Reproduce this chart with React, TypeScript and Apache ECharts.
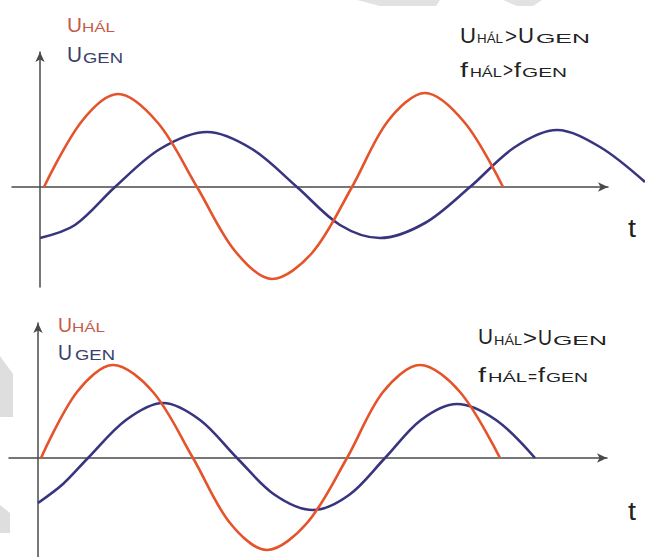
import React, { useEffect, useRef } from "react";
import * as echarts from "echarts";

// Upper diagram: mains voltage (HÁL) at higher frequency than generator voltage (GEN)
const upperHal: [number, number][] = [
  [4, 0], [42, 66], [78, 93], [118, 64], [157, 0], [195, -64], [232, -92],
  [272, -66], [312, 0], [348, 66], [385, 94], [425, 64], [463, 0],
];
const upperGen: [number, number][] = [
  [0, -51], [35, -38], [75, 0], [120, 38], [167, 55], [212, 38], [257, 0],
  [300, -38], [340, -51], [385, -36], [430, 0], [475, 40], [517, 57], [560, 40], [605, 5],
];

// Lower diagram: same frequency, HÁL amplitude larger
const lowerHal: [number, number][] = [
  [3, 0], [39, 66], [75, 93], [115, 66], [155, 0], [192, -65], [229, -92],
  [269, -65], [309, 0], [345, 66], [382, 93], [422, 66], [462, 0],
];
const lowerGen: [number, number][] = [
  [0, -45], [25, -26], [50, 0], [88, 38], [125, 55], [162, 38], [199, 0],
  [237, -37], [275, -52], [311, -37], [347, 0], [383, 38], [419, 54], [458, 38], [497, 0],
];

const HAL_COLOR = "#e5532b";
const GEN_COLOR = "#38357f";
const AXIS_COLOR = "#4a4a4a";
const FONT = '"Liberation Sans", Arial, sans-serif';

type Piece = [string, number, number, number]; // text, font size, left, right

let measureCtx: CanvasRenderingContext2D | null = null;
function textWidth(text: string, size: number): number {
  if (!measureCtx) measureCtx = document.createElement("canvas").getContext("2d");
  if (!measureCtx) return text.length * size * 0.6;
  measureCtx.font = `${size}px ${FONT}`;
  return measureCtx.measureText(text).width;
}

function label(pieces: Piece[], baseline: number, fill: string) {
  return pieces.map(([text, size, x0, x1]) => {
    const natural = textWidth(text, size);
    const sx = natural > 0 ? (x1 - x0) / natural : 1;
    return {
      type: "text",
      x: x0,
      y: baseline - 0.35 * size,
      scaleX: sx,
      silent: true,
      style: { text, fontSize: size, fontFamily: FONT, fill, align: "left", verticalAlign: "middle" },
    };
  });
}

function valueAxis(gridIndex: number, min: number, max: number, visible: boolean) {
  return {
    type: "value" as const,
    gridIndex,
    min,
    max,
    show: visible,
    axisLine: {
      show: visible,
      onZero: true,
      symbol: ["none", "arrow"],
      symbolSize: [7, 10],
      lineStyle: { color: AXIS_COLOR, width: 1.5 },
    },
    axisTick: { show: false },
    axisLabel: { show: false },
    splitLine: { show: false },
  };
}

function curve(data: [number, number][], color: string, idx: number) {
  return {
    type: "line",
    xAxisIndex: idx,
    yAxisIndex: idx,
    data,
    smooth: 0.33,
    showSymbol: false,
    clip: false,
    lineStyle: { color, width: 2.6 },
  };
}

export default function App() {
  const ref = useRef<HTMLDivElement>(null);

  useEffect(() => {
    if (!ref.current) return;
    const chart = echarts.init(ref.current, undefined, { renderer: "svg" });

    const halText = "#c45a47";
    const genText = "#3c3e6a";
    const dark = "#222222";

    chart.setOption({
      animation: false,
      backgroundColor: "#ffffff",
      grid: [
        // visible axes of the two diagrams
        { left: 12, top: 52, width: 596, height: 235 },
        { left: 9, top: 323, width: 598, height: 234 },
        // same scales, running on to the right edge so the curves are not cut
        { left: 12, top: 52, width: 633, height: 235 },
        { left: 9, top: 323, width: 636, height: 234 },
      ],
      xAxis: [
        valueAxis(0, -28, 568, true),
        valueAxis(1, -29, 569, true),
        valueAxis(2, -28, 605, false),
        valueAxis(3, -29, 607, false),
      ],
      yAxis: [
        valueAxis(0, -100, 135, true),
        valueAxis(1, -99, 135, true),
        valueAxis(2, -100, 135, false),
        valueAxis(3, -99, 135, false),
      ],
      series: [
        curve(upperGen, GEN_COLOR, 2),
        curve(upperHal, HAL_COLOR, 2),
        curve(lowerGen, GEN_COLOR, 3),
        curve(lowerHal, HAL_COLOR, 3),
      ],
      graphic: [
        // faint diagonal marks along the edges
        { type: "polygon", silent: true, shape: { points: [[357, 0], [440, 0], [436, 6], [380, 6]] }, style: { fill: "#e2e2e2" } },
        { type: "polygon", silent: true, shape: { points: [[503, 0], [542, 0], [533, 6], [517, 6]] }, style: { fill: "#e2e2e2" } },
        { type: "polygon", silent: true, shape: { points: [[0, 356], [13, 374], [13, 417], [0, 417]] }, style: { fill: "#dedede" } },
        { type: "polygon", silent: true, shape: { points: [[0, 505], [10, 513], [10, 533], [0, 533]] }, style: { fill: "#dedede" } },

        // upper diagram labels
        ...label([["U", 21, 67, 82], ["HÁL", 12, 82, 115]], 32, halText),
        ...label([["U", 22, 67, 82], ["GEN", 14, 83, 123]], 63, genText),
        ...label([["U", 22, 460, 476], ["HÁL", 12, 477, 503], [">", 20, 505, 517], ["U", 22, 518, 534], ["GEN", 12, 536, 590]], 43, dark),
        ...label([["f", 20, 460, 468], ["HÁL", 12, 470, 502], [">", 20, 503, 513], ["f", 20, 514, 521], ["GEN", 12, 522, 567]], 77, dark),
        ...label([["t", 26, 628, 636]], 237, dark),

        // lower diagram labels
        ...label([["U", 21, 58, 72], ["HÁL", 12, 72, 105]], 332, halText),
        ...label([["U", 22, 58, 72], ["GEN", 14, 75, 115]], 360, genText),
        ...label([["U", 22, 478, 493], ["HÁL", 12, 494, 522], [">", 20, 523, 537], ["U", 22, 538, 552], ["GEN", 12, 553, 607]], 345, dark),
        ...label([["f", 20, 478, 486], ["HÁL", 12, 488, 527], ["=", 16, 528, 537], ["f", 20, 538, 545], ["GEN", 12, 546, 588]], 382, dark),
        ...label([["t", 26, 628, 636]], 520, dark),
      ],
    });
    return () => chart.dispose();
  }, []);

  return (
    <div
      ref={ref}
      style={{ position: "fixed", left: 0, top: 0, width: 645, height: 557, background: "#ffffff" }}
    />
  );
}
